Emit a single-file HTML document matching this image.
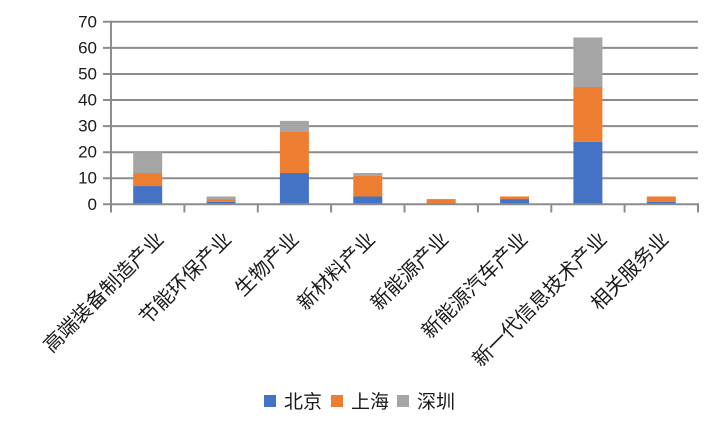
<!DOCTYPE html>
<html><head><meta charset="utf-8"><style>
html,body{margin:0;padding:0;background:#fff;}
svg{display:block;}
.y{font-family:"Liberation Sans","Noto Sans CJK SC",sans-serif;font-size:17px;fill:#1a1a1a;}
.x{font-family:"Liberation Sans","Noto Sans CJK SC",sans-serif;font-size:20px;fill:#1a1a1a;}
.l{font-family:"Liberation Sans","Noto Sans CJK SC",sans-serif;font-size:19px;fill:#1a1a1a;}
</style></head><body>
<svg width="720" height="432" viewBox="0 0 720 432" xmlns="http://www.w3.org/2000/svg">
<g stroke="#8c8c8c" stroke-width="2">
<line x1="103" y1="21.8" x2="698" y2="21.8"/>
<line x1="103" y1="47.9" x2="698" y2="47.9"/>
<line x1="103" y1="74" x2="698" y2="74"/>
<line x1="103" y1="100" x2="698" y2="100"/>
<line x1="103" y1="126.1" x2="698" y2="126.1"/>
<line x1="103" y1="152.2" x2="698" y2="152.2"/>
<line x1="103" y1="178.2" x2="698" y2="178.2"/>
</g>
<g>
<rect x="133.2" y="186.05" width="29" height="18.25" fill="#4472C4"/>
<rect x="133.2" y="173.02" width="29" height="13.04" fill="#ED7D31"/>
<rect x="133.2" y="152.16" width="29" height="20.86" fill="#A5A5A5"/>
<rect x="206.6" y="201.69" width="29" height="2.61" fill="#4472C4"/>
<rect x="206.6" y="199.09" width="29" height="2.61" fill="#ED7D31"/>
<rect x="206.6" y="196.48" width="29" height="2.61" fill="#A5A5A5"/>
<rect x="279.9" y="173.02" width="29" height="31.28" fill="#4472C4"/>
<rect x="279.9" y="131.3" width="29" height="41.72" fill="#ED7D31"/>
<rect x="279.9" y="120.88" width="29" height="10.43" fill="#A5A5A5"/>
<rect x="353.3" y="196.48" width="29" height="7.82" fill="#4472C4"/>
<rect x="353.3" y="175.62" width="29" height="20.86" fill="#ED7D31"/>
<rect x="353.3" y="173.02" width="29" height="2.61" fill="#A5A5A5"/>
<rect x="426.7" y="199.09" width="29" height="5.21" fill="#ED7D31"/>
<rect x="500.1" y="199.09" width="29" height="5.21" fill="#4472C4"/>
<rect x="500.1" y="196.48" width="29" height="2.61" fill="#ED7D31"/>
<rect x="573.4" y="141.73" width="29" height="62.57" fill="#4472C4"/>
<rect x="573.4" y="86.99" width="29" height="54.75" fill="#ED7D31"/>
<rect x="573.4" y="37.45" width="29" height="49.54" fill="#A5A5A5"/>
<rect x="646.8" y="201.69" width="29" height="2.61" fill="#4472C4"/>
<rect x="646.8" y="196.48" width="29" height="5.21" fill="#ED7D31"/>
</g>
<g stroke="#8c8c8c" stroke-width="2">
<line x1="103" y1="204.3" x2="699" y2="204.3"/>
<line x1="111" y1="20.8" x2="111" y2="212.5"/>
<line x1="184.4" y1="204" x2="184.4" y2="212.5"/>
<line x1="257.8" y1="204" x2="257.8" y2="212.5"/>
<line x1="331.1" y1="204" x2="331.1" y2="212.5"/>
<line x1="404.5" y1="204" x2="404.5" y2="212.5"/>
<line x1="477.9" y1="204" x2="477.9" y2="212.5"/>
<line x1="551.3" y1="204" x2="551.3" y2="212.5"/>
<line x1="624.6" y1="204" x2="624.6" y2="212.5"/>
<line x1="698" y1="204" x2="698" y2="212.5"/>
</g>
<g class="y" text-anchor="end" dominant-baseline="central">
<text x="97" y="21.8">70</text>
<text x="97" y="47.9">60</text>
<text x="97" y="74">50</text>
<text x="97" y="100">40</text>
<text x="97" y="126.1">30</text>
<text x="97" y="152.2">20</text>
<text x="97" y="178.2">10</text>
<text x="97" y="204.3">0</text>
</g>
<g class="x" text-anchor="end">
<text x="164.9" y="240.5" transform="rotate(-45 164.9 240.5)">高端装备制造产业</text>
<text x="232.5" y="240.5" transform="rotate(-45 232.5 240.5)">节能环保产业</text>
<text x="300" y="240.5" transform="rotate(-45 300 240.5)">生物产业</text>
<text x="376.3" y="240.5" transform="rotate(-45 376.3 240.5)">新材料产业</text>
<text x="449.7" y="240.5" transform="rotate(-45 449.7 240.5)">新能源产业</text>
<text x="528.9" y="240.5" transform="rotate(-45 528.9 240.5)">新能源汽车产业</text>
<text x="608" y="240.5" transform="rotate(-45 608 240.5)">新一代信息技术产业</text>
<text x="669.8" y="240.5" transform="rotate(-45 669.8 240.5)">相关服务业</text>
</g>
<g>
<rect x="264" y="395" width="12" height="12" fill="#4472C4"/>
<rect x="331" y="395" width="12" height="12" fill="#ED7D31"/>
<rect x="397" y="395" width="12" height="12" fill="#A5A5A5"/>
</g>
<g class="l">
<text x="284" y="408">北京</text>
<text x="351" y="408">上海</text>
<text x="417" y="408">深圳</text>
</g>
</svg>
</body></html>
